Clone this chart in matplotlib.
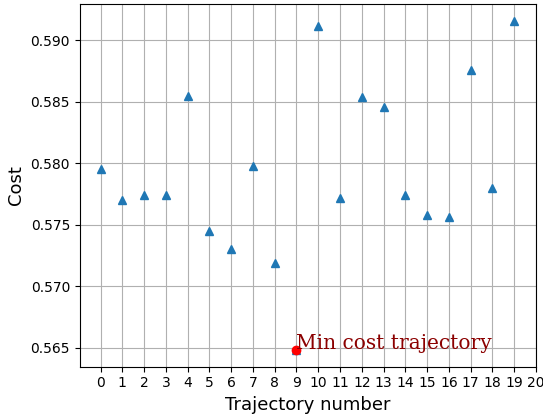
import matplotlib
matplotlib.use("Agg")
import matplotlib.pyplot as plt
import numpy as np

trajectory = list(range(20))
cost = [0.5795, 0.5770, 0.5774, 0.5774, 0.5855, 0.5745, 0.5730, 0.5798, 0.5719, 0.5648,
        0.5912, 0.5772, 0.5854, 0.5846, 0.5774, 0.5758, 0.5756, 0.5876, 0.5780, 0.5916]
xticks = list(range(21))

i_min = int(np.argmin(cost))

fig = plt.figure(figsize=(5.43, 4.19), dpi=100)
ax = fig.add_axes([0.147, 0.125, 0.84, 0.865])
ax.plot(trajectory, cost, '^', color='#1f77b4')
ax.plot(trajectory[i_min], cost[i_min], 'ro')
ax.text(trajectory[i_min], cost[i_min] - 0.0002, 'Min cost trajectory', family='serif',
        color='darkred', fontsize=14.5, va='bottom')
ax.set_xticks(xticks)
ax.grid(True)
ax.set_xlabel('Trajectory number', fontsize=13)
ax.set_ylabel('Cost', fontsize=13)
fig.savefig('out.png', dpi=100)
